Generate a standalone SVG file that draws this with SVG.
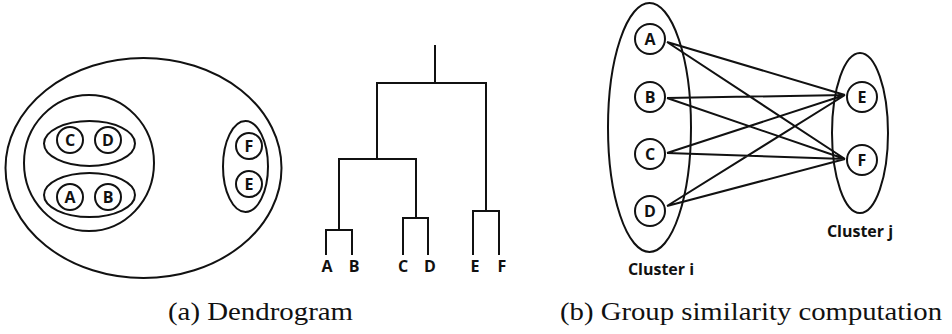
<svg xmlns="http://www.w3.org/2000/svg" width="952" height="334" viewBox="0 0 952 334">
<style>
.s{fill:none;stroke:#111;stroke-width:2}
.n{fill:#fff;stroke:#111;stroke-width:2}
.l{font-family:"Open Sans","Liberation Sans",sans-serif;font-weight:700;font-size:16px;fill:#111;text-anchor:middle}
.cl{font-family:"Open Sans","Liberation Sans",sans-serif;font-weight:700;font-size:16px;fill:#111;text-anchor:middle}
.cap{font-family:"Liberation Serif","Times New Roman",serif;font-size:26px;fill:#111}
</style>
<rect width="952" height="334" fill="#fff"/>
<g id="venn">
  <ellipse id="all" class="s" cx="143.5" cy="168" rx="138" ry="110"/>
  <ellipse id="abcd" class="s" cx="89" cy="163" rx="65" ry="68"/>
  <ellipse id="cd" class="s" cx="89.5" cy="143.5" rx="45.5" ry="22.5"/>
  <ellipse id="ab" class="s" cx="89.5" cy="195" rx="45.5" ry="22"/>
  <ellipse id="fe" class="s" cx="245.5" cy="166.5" rx="22.5" ry="45.5"/>
  <g id="vC"><circle class="s" cx="70" cy="140" r="13"/><text class="l" x="70" y="146">C</text></g>
  <g id="vD"><circle class="s" cx="108" cy="140" r="13"/><text class="l" x="108" y="146">D</text></g>
  <g id="vA"><circle class="s" cx="70" cy="197" r="13"/><text class="l" x="70" y="203">A</text></g>
  <g id="vB"><circle class="s" cx="108" cy="197" r="13"/><text class="l" x="108" y="203">B</text></g>
  <g id="vF"><circle class="s" cx="249" cy="146" r="13"/><text class="l" x="249" y="152">F</text></g>
  <g id="vE"><circle class="s" cx="249" cy="184" r="13"/><text class="l" x="249" y="190">E</text></g>
</g>
<g id="dendrogram">
  <path class="s" d="M435 45V83M377 159V83H486V211M339 230V159H416V218M326 255V230H352V255M403 255V218H428V255M473 255V211H499V255"/>
  <text class="l" x="327" y="272">A</text>
  <text class="l" x="354" y="272">B</text>
  <text class="l" x="403" y="272">C</text>
  <text class="l" x="430" y="272">D</text>
  <text class="l" x="475" y="272">E</text>
  <text class="l" x="502" y="272">F</text>
</g>
<g id="clusterI">
  <ellipse class="s" cx="649.5" cy="127.5" rx="41.5" ry="124.5"/>
  <text class="cl" x="661" y="275">Cluster i</text>
</g>
<g id="clusterJ">
  <ellipse class="s" cx="860" cy="133" rx="28" ry="80"/>
  <text class="cl" x="860" y="237">Cluster j</text>
</g>
<g id="connectors">
  <path class="s" d="M667 42L845 95M667 42L845 159M667 98L845 95M667 98L845 159M667 153L845 95M667 153L845 159M667 206L845 95M667 206L845 159"/>
</g>
<g id="nA"><circle class="n" cx="650" cy="39" r="15"/><text class="l" x="650" y="45">A</text></g>
<g id="nB"><circle class="n" cx="650" cy="97" r="15"/><text class="l" x="650" y="103">B</text></g>
<g id="nC"><circle class="n" cx="650" cy="154" r="15"/><text class="l" x="650" y="160">C</text></g>
<g id="nD"><circle class="n" cx="650" cy="211" r="15"/><text class="l" x="650" y="217">D</text></g>
<g id="nE"><circle class="n" cx="862" cy="97" r="15"/><text class="l" x="862" y="103">E</text></g>
<g id="nF"><circle class="n" cx="862" cy="160" r="15"/><text class="l" x="862" y="166">F</text></g>
<text class="cap" x="168" y="320" textLength="185" lengthAdjust="spacingAndGlyphs">(a) Dendrogram</text>
<text class="cap" x="560" y="320" textLength="382" lengthAdjust="spacingAndGlyphs">(b) Group similarity computation</text>
</svg>
